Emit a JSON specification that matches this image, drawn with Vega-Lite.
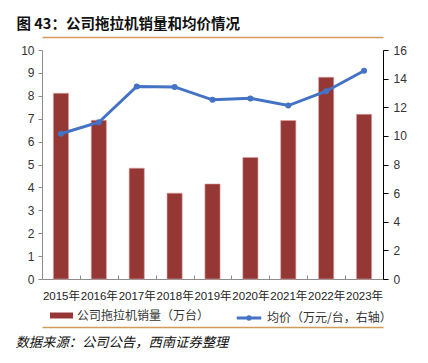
{
  "$schema": "https://vega.github.io/schema/vega-lite/v6.json",
  "autosize": "none",
  "width": 341,
  "height": 229,
  "padding": {"left": 42, "top": 50, "right": 45, "bottom": 84},
  "background": "white",
  "config": {
    "view": {"stroke": null},
    "axis": {"labelFont": "Liberation Sans, Noto Sans CJK SC", "labelFontSize": 12, "labelColor": "#333333", "grid": false},
    "legend": {"labelFont": "Noto Sans CJK SC", "labelFontSize": 12, "labelColor": "#333333"}
  },
  "data": {
    "values": [
      {"year": "2015年", "sales": 8.11, "price": 10.15},
      {"year": "2016年", "sales": 6.93, "price": 10.95},
      {"year": "2017年", "sales": 4.84, "price": 13.45},
      {"year": "2018年", "sales": 3.75, "price": 13.42},
      {"year": "2019年", "sales": 4.15, "price": 12.52},
      {"year": "2020年", "sales": 5.31, "price": 12.62},
      {"year": "2021年", "sales": 6.92, "price": 12.12},
      {"year": "2022年", "sales": 8.81, "price": 13.12},
      {"year": "2023年", "sales": 7.19, "price": 14.55}
    ]
  },
  "layer": [
    {
      "mark": {"type": "bar", "width": {"band": 0.4}, "stroke": "#D8A5A5", "strokeWidth": 0.6},
      "encoding": {
        "x": {
          "field": "year", "type": "nominal", "sort": null,
          "scale": {"paddingInner": 0, "paddingOuter": 0},
          "axis": {
            "orient": "bottom", "title": null, "labelAngle": 0, "labelOverlap": false,
            "labelFontSize": 11.5,
            "domainColor": "#8C8C8C", "tickColor": "#8C8C8C", "tickBand": "extent", "tickSize": -4,
            "labelPadding": 15, "labelColor": "#222222"
          }
        },
        "y": {
          "field": "sales", "type": "quantitative",
          "scale": {"domain": [0, 10]},
          "axis": {"title": null, "values": [0,1,2,3,4,5,6,7,8,9,10], "domainColor": "#8C8C8C", "tickColor": "#8C8C8C", "tickSize": 4, "labelPadding": 4}
        },
        "fill": {
          "datum": "公司拖拉机销量（万台）",
          "scale": {"range": ["#953735"]},
          "legend": {
            "orient": "none", "legendX": 8, "legendY": 254, "direction": "horizontal",
            "title": null, "symbolType": "M-1,-0.26H1V0.26H-1Z", "symbolSize": 529,
            "symbolStrokeWidth": 0, "symbolFillColor": "#953735", "symbolOpacity": 1, "labelOffset": 4
          }
        }
      }
    },
    {
      "mark": {"type": "line", "strokeWidth": 3},
      "encoding": {
        "x": {
          "field": "year", "type": "nominal", "sort": null,
          "axis": {
            "orient": "top", "offset": 13, "labels": false, "ticks": false,
            "domainColor": "#D09B5B", "domainWidth": 1.5,
            "title": "图 43：公司拖拉机销量和均价情况",
            "titleX": -26, "titleY": -13, "titleAlign": "left", "titleBaseline": "middle", "titleAnchor": null,
            "titleFont": "Noto Sans CJK SC", "titleFontSize": 14.5, "titleFontWeight": "bold", "titleColor": "#111111"
          }
        },
        "y": {
          "field": "price", "type": "quantitative",
          "scale": {"domain": [0, 16]},
          "axis": {"orient": "right", "title": null, "values": [0,2,4,6,8,10,12,14,16], "domainColor": "#000000", "tickColor": "#000000", "tickSize": 5, "labelPadding": 5}
        },
        "stroke": {
          "datum": "均价（万元/台，右轴）",
          "scale": {"range": ["#4472C4"]},
          "legend": {
            "orient": "none", "legendX": 193, "legendY": 254, "direction": "horizontal",
            "title": null, "symbolType": "M-1,0H1M0.1,0A0.1,0.1 0 1,1 -0.1,0A0.1,0.1 0 1,1 0.1,0", "symbolSize": 600,
            "symbolStrokeWidth": 3, "symbolStrokeColor": "#4472C4", "symbolOpacity": 1, "labelOffset": 4
          }
        }
      }
    },
    {
      "mark": {"type": "point", "filled": true, "size": 36, "color": "#4472C4", "opacity": 1},
      "encoding": {
        "x": {
          "field": "year", "type": "nominal", "sort": null,
          "axis": {
            "orient": "bottom", "offset": 48, "labels": false, "ticks": false,
            "domainColor": "#D09B5B", "domainWidth": 1.5,
            "title": "数据来源：公司公告，西南证券整理",
            "titleX": -27, "titleY": 15, "titleAlign": "left", "titleBaseline": "middle", "titleAnchor": null,
            "titleFont": "Noto Sans CJK SC", "titleFontSize": 13.3, "titleFontWeight": "normal", "titleFontStyle": "italic", "titleColor": "#111111"
          }
        },
        "y": {
          "field": "price", "type": "quantitative",
          "scale": {"domain": [0, 16]},
          "axis": null
        }
      }
    }
  ],
  "resolve": {"scale": {"y": "independent"}, "axis": {"x": "independent"}}
}
